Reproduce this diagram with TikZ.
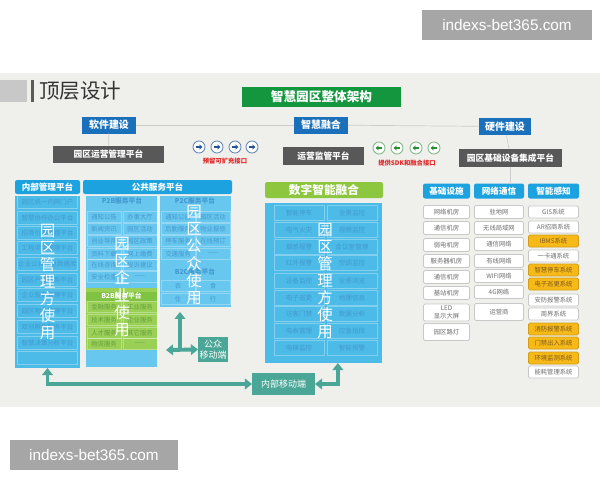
\documentclass[tikz,border=0pt]{standalone}
\usepackage{fontspec}
\setmainfont{Noto Sans CJK SC}
\newfontfamily\wmfont{Liberation Sans}
\usetikzlibrary{positioning,arrows.meta}

\definecolor{slidebg}{RGB}{239,239,236}
\definecolor{wmgray}{RGB}{166,166,166}
\definecolor{titlegray}{RGB}{200,200,200}
\definecolor{bargray}{RGB}{90,90,90}
\definecolor{titletext}{RGB}{51,51,51}
\definecolor{archgreen}{RGB}{20,150,62}
\definecolor{topblue}{RGB}{26,112,186}
\definecolor{platgray}{RGB}{88,88,88}
\definecolor{faintline}{RGB}{205,205,205}
\definecolor{headcyan}{RGB}{28,162,222}
\definecolor{bodycyan}{RGB}{76,187,232}
\definecolor{panelcyan}{RGB}{104,199,238}
\definecolor{rowtext}{RGB}{68,152,207}
\definecolor{b2bgreen}{RGB}{154,208,86}
\definecolor{b2bhead}{RGB}{128,195,66}
\definecolor{greentext}{RGB}{100,158,62}
\definecolor{digigreen}{RGB}{141,198,63}
\definecolor{mobteal}{RGB}{74,166,150}
\definecolor{cellline}{RGB}{200,200,200}
\definecolor{celltext}{RGB}{110,110,110}
\definecolor{cellyellow}{RGB}{246,185,24}
\definecolor{hottext}{RGB}{125,90,30}
\definecolor{notered}{RGB}{222,40,40}
\definecolor{circblue}{RGB}{34,84,150}
\definecolor{circgreen}{RGB}{40,140,50}

\begin{document}
\begin{tikzpicture}[x=0.025cm,y=-0.025cm,
    sz/.style 2 args={minimum width=#1*0.025cm,minimum height=#2*0.025cm,inner sep=0pt,outer sep=0pt},
    wm/.style={fill=wmgray,text=white,font=\wmfont\fontsize{10.9}{12}\selectfont},
    top box/.style={fill=topblue,text=white,font=\fontsize{7.1}{8}\selectfont\bfseries},
    plat box/.style={fill=platgray,text=white,font=\fontsize{6.2}{7}\selectfont\bfseries},
    faint/.style={draw=faintline,line width=0.5pt},
    blue circ/.style={circle,sz={12}{12},fill=white,draw=circblue!70,line width=0.6pt},
    green circ/.style={circle,sz={12}{12},fill=white,draw=circgreen!60,line width=0.6pt},
    circ arrow/.style={line width=1.1pt,-{Stealth[length=2.2pt,width=3.6pt]}},
    note/.style={text=notered,font=\fontsize{4.5}{5}\selectfont\bfseries},
    head box/.style={fill=headcyan,rounded corners=1.5pt,text=white,font=\fontsize{6.1}{7}\selectfont\bfseries},
    mrow/.style={sz={60}{13},draw=white,draw opacity=0.3,text=rowtext,font=\fontsize{4.6}{5}\selectfont},
    prow/.style={sz={34}{11},draw=white,draw opacity=0.3,text=rowtext,font=\fontsize{4.5}{5}\selectfont},
    b2b row/.style={prow,text=greentext},
    drow/.style={sz={50}{15},draw=white,draw opacity=0.3,text=rowtext,font=\fontsize{4.7}{5}\selectfont},
    sub title/.style={text=rowtext,font=\fontsize{4.8}{5}\selectfont\bfseries},
    big text/.style={text=white,align=center,font=\fontsize{11}{12.2}\selectfont},
    mob box/.style={fill=mobteal,text=white,align=center,font=\fontsize{6.4}{8}\selectfont},
    tarrow/.style={draw=mobteal,line width=2.8pt},
    cell/.style={fill=white,draw=cellline,line width=0.5pt,rounded corners=1pt,text=celltext,align=center,font=\fontsize{4.5}{5.2}\selectfont},
    hot cell/.style={cell,fill=cellyellow,draw=cellyellow!85!black,text=hottext}
  ]
  \useasboundingbox (0,0) rectangle (600,480);
  \fill[white] (0,0) rectangle (600,480);
  \fill[slidebg] (0,73) rectangle (600,407);

  % watermarks
  \node[wm,sz={170}{30}] (wma) at (507,25) {indexs-bet365.com};
  \node[wm,sz={168}{30}] (wmb) at (94,455) {indexs-bet365.com};

  % title
  \node[sz={27}{22},fill=titlegray] (tg) at (13.5,91) {};
  \node[sz={3}{22},fill=bargray] (tb) at (32.5,91) {};
  \node[anchor=west,inner sep=0pt,text=titletext,font=\fontsize{14.6}{16}\selectfont] (title) at (39,91) {顶层设计};

  \node[sz={159}{20},fill=archgreen,text=white,font=\fontsize{9}{10}\selectfont\bfseries] (arch) at (321.5,97) {智慧园区整体架构};

  % top row
  \node[top box,sz={54}{17}] (sw) at (109,125) {软件建设};
  \node[top box,sz={54}{17}] (fz) at (321,125) {智慧融合};
  \node[top box,sz={52}{17}] (hw) at (505,126.5) {硬件建设};

  \node[plat box,sz={111}{17}] (opm) at (108.5,154.5) {园区运营管理平台};
  \node[plat box,sz={81}{18}] (spv) at (323.5,156) {运营监管平台};
  \node[plat box,sz={103}{18}] (ins) at (510.5,158) {园区基础设备集成平台};

  \path[faint]
      (sw) edge (fz)
      (fz) edge (hw)
      (sw) edge (opm)
      (hw) edge (ins);

  % interface arrows
  \node[blue circ] (ba) at (199,147) {};
  \node[blue circ] (bb) at (217,147) {};
  \node[blue circ] (bc) at (235,147) {};
  \node[blue circ] (bd) at (252,147) {};
  \draw[circ arrow,circblue] ([xshift=-2.4pt]ba.center) -- ([xshift=2.4pt]ba.center);
  \draw[circ arrow,circblue] ([xshift=-2.4pt]bb.center) -- ([xshift=2.4pt]bb.center);
  \draw[circ arrow,circblue] ([xshift=-2.4pt]bc.center) -- ([xshift=2.4pt]bc.center);
  \draw[circ arrow,circblue] ([xshift=-2.4pt]bd.center) -- ([xshift=2.4pt]bd.center);
  \node[note] (rsv) at (225,161) {预留可扩充接口};

  \node[green circ] (ga) at (379,148) {};
  \node[green circ] (gb) at (397,148) {};
  \node[green circ] (gc) at (416,148) {};
  \node[green circ] (gd) at (434,148) {};
  \draw[circ arrow,circgreen] ([xshift=2.4pt]ga.center) -- ([xshift=-2.4pt]ga.center);
  \draw[circ arrow,circgreen] ([xshift=2.4pt]gb.center) -- ([xshift=-2.4pt]gb.center);
  \draw[circ arrow,circgreen] ([xshift=2.4pt]gc.center) -- ([xshift=-2.4pt]gc.center);
  \draw[circ arrow,circgreen] ([xshift=2.4pt]gd.center) -- ([xshift=-2.4pt]gd.center);
  \node[note] (sdk) at (407,163) {提供SDK和融合接口};

  % internal management platform
  \node[head box,sz={65}{14}] (mh) at (47.5,187) {内部管理平台};
  \node[sz={65}{172},fill=bodycyan] (mb) at (47.5,282) {};
  \node[mrow] (m1) at (47.5,202) {园区统一内网门户};
  \node[mrow] (m2) at (47.5,218) {智慧协作办公平台};
  \node[mrow] (m3) at (47.5,233) {招商引资管理平台};
  \node[mrow] (m4) at (47.5,248) {工程项目管理平台};
  \node[mrow] (m5) at (47.5,264) {企业公共信息数据库};
  \node[mrow] (m6) at (47.5,280) {园区产业服务平台};
  \node[mrow] (m7) at (47.5,295) {企业服务管理平台};
  \node[mrow] (m8) at (47.5,311) {园区物业管理平台};
  \node[mrow] (m9) at (47.5,327) {双创孵化服务平台};
  \node[mrow] (m10) at (47.5,343) {智慧决策分析平台};
  \node[mrow] (m11) at (47.5,358) {};
  \node[big text] (mtxt) at (47.5,282) {园\\区\\管\\理\\方\\使\\用};

  % public service platform
  \node[head box,sz={149}{14}] (ph) at (157.5,187) {公共服务平台};
  \node[sz={71}{171},fill=panelcyan] (pb) at (121.5,281.5) {};
  \node[sz={71}{111},fill=panelcyan] (pc) at (195.5,251.5) {};

  \node[sub title] (pbt) at (122,201) {P2B服务平台};
  \node[prow] (pb1) at (104,217) {通知公告};
  \node[prow] (pb2) at (140,217) {办事大厅};
  \node[prow] (pb3) at (104,229) {新闻资讯};
  \node[prow] (pb4) at (140,229) {园区活动};
  \node[prow] (pb5) at (104,241) {创业导师};
  \node[prow] (pb6) at (140,241) {园区政策};
  \node[prow] (pb7) at (104,254) {资料下载};
  \node[prow] (pb8) at (140,254) {网上缴费};
  \node[prow] (pb9) at (104,265) {在线咨询};
  \node[prow] (pb10) at (140,265) {投诉建议};
  \node[prow] (pb11) at (104,277) {安全检查};
  \node[prow] (pb12) at (140,277) {——};

  \node[sz={71}{62},fill=b2bgreen] (bb2) at (121.5,319) {};
  \node[sz={71}{9},fill=b2bhead,text=white,font=\fontsize{4.8}{5}\selectfont\bfseries] (bbt) at (121.5,296) {B2B服务平台};
  \node[b2b row] (bg1) at (104,307) {金融服务};
  \node[b2b row] (bg2) at (140,307) {工业服务};
  \node[b2b row] (bg3) at (104,320) {技术服务};
  \node[b2b row] (bg4) at (140,320) {企业服务};
  \node[b2b row] (bg5) at (104,333) {人才服务};
  \node[b2b row] (bg6) at (140,333) {其它服务};
  \node[b2b row] (bg7) at (104,344) {物流服务};
  \node[b2b row] (bg8) at (140,344) {——};

  \node[sub title] (pct) at (195,201) {P2C服务平台};
  \node[prow] (pc1) at (178,217) {通知公告};
  \node[prow] (pc2) at (213,217) {园区活动};
  \node[prow] (pc3) at (178,229) {后勤服务};
  \node[prow] (pc4) at (213,229) {物业报修};
  \node[prow] (pc5) at (178,241) {停车服务};
  \node[prow] (pc6) at (213,241) {在线预订};
  \node[prow] (pc7) at (178,254) {交通服务};
  \node[prow] (pc8) at (213,254) {——};
  \node[sub title] (bct) at (195,272) {B2C服务平台};
  \node[prow] (bc1) at (178,286) {衣};
  \node[prow] (bc2) at (213,286) {食};
  \node[prow] (bc3) at (178,299) {住};
  \node[prow] (bc4) at (213,299) {行};

  \node[big text] (etxt) at (122,287) {园\\区\\企\\业\\使\\用};
  \node[big text] (gtxt) at (194,255) {园\\区\\公\\众\\使\\用};

  % public mobile end
  \node[mob box,sz={30}{25}] (pm) at (213,349.5) {公众\\移动端};
  \coordinate (hub) at (180,350);
  \coordinate (hubl) at (166,350);
  \draw[tarrow,{Triangle[length=5pt,width=7.5pt]}-{Triangle[length=5pt,width=7.5pt]}] (hubl) -- (pm.west);
  \draw[tarrow,-{Triangle[length=5pt,width=7.5pt]},shorten >=3.5pt] (hub) -- (hub |- pc.south);

  % digital fusion
  \node[sz={118}{16},fill=digigreen,rounded corners=1.5pt,text=white,font=\fontsize{8.3}{9}\selectfont\bfseries] (dh) at (324,190) {数字智能融合};
  \node[sz={117}{160},fill=bodycyan] (db) at (323.5,283) {};
  \node[drow] (d1) at (299,213) {智能停车};
  \node[drow] (d2) at (352,213) {全景监控};
  \node[drow] (d3) at (299,230) {电气火灾};
  \node[drow] (d4) at (352,230) {视频监控};
  \node[drow] (d5) at (299,247) {烟感报警};
  \node[drow] (d6) at (352,247) {会议室管理};
  \node[drow] (d7) at (299,263) {红外报警};
  \node[drow] (d8) at (352,263) {空调监控};
  \node[drow] (d9) at (299,281) {设备监控};
  \node[drow] (d10) at (352,281) {全景浏览};
  \node[drow] (d11) at (299,298) {电子巡更};
  \node[drow] (d12) at (352,298) {地理信息};
  \node[drow] (d13) at (299,314) {访客门禁};
  \node[drow] (d14) at (352,314) {数据分析};
  \node[drow] (d15) at (299,331) {电表管理};
  \node[drow] (d16) at (352,331) {应急指挥};
  \node[drow] (d17) at (299,348) {电梯监控};
  \node[drow] (d18) at (352,348) {智能预警};
  \node[big text] (dtxt) at (325,281) {园\\区\\管\\理\\方\\使\\用};

  % internal mobile end
  \node[mob box,sz={63}{22}] (im) at (283.5,384) {内部移动端};
  \draw[tarrow,{Triangle[length=5pt,width=7.5pt]}-{Triangle[length=5pt,width=7.5pt]}] (im.west) -| (mb.south);
  \draw[tarrow,{Triangle[length=5pt,width=7.5pt]}-{Triangle[length=5pt,width=7.5pt]}] (im.east) -| ([xshift=0.36cm]db.south);

  % hardware columns
  \node[head box,sz={47}{15}] (ha) at (446.5,191) {基础设施};
  \node[head box,sz={50}{15}] (hb) at (499,191) {网络通信};
  \node[head box,sz={51}{15}] (hc) at (553.5,191) {智能感知};
  \draw[faint] (ins.south) -- (ins.south |- hb.north);

  \node[cell,sz={46}{13}] (a1) at (446.5,212) {网络机房};
  \node[cell,sz={46}{13}] (a2) at (446.5,228) {通信机房};
  \node[cell,sz={46}{13}] (a3) at (446.5,245) {弱电机房};
  \node[cell,sz={46}{13}] (a4) at (446.5,261) {服务器机房};
  \node[cell,sz={46}{13}] (a5) at (446.5,277) {通信机房};
  \node[cell,sz={46}{13}] (a6) at (446.5,293) {基站机房};
  \node[cell,sz={46}{17}] (a7) at (446.5,312.5) {LED\\显示大屏};
  \node[cell,sz={46}{17}] (a8) at (446.5,332) {园区路灯};

  \node[cell,sz={49}{13}] (n1) at (499,212) {驻地网};
  \node[cell,sz={49}{13}] (n2) at (499,228) {无线局域网};
  \node[cell,sz={49}{13}] (n3) at (499,244) {通信网络};
  \node[cell,sz={49}{13}] (n4) at (499,261) {有线网络};
  \node[cell,sz={49}{13}] (n5) at (499,276) {WIFI网络};
  \node[cell,sz={49}{13}] (n6) at (499,292) {4G网络};
  \node[cell,sz={49}{17}] (n7) at (499,312) {运营商};

  \node[cell,sz={50}{12}] (s1) at (553.5,212) {GIS系统};
  \node[cell,sz={50}{12}] (s2) at (553.5,227) {AR招商系统};
  \node[hot cell,sz={50}{12}] (s3) at (553.5,241) {IBMS系统};
  \node[cell,sz={50}{12}] (s4) at (553.5,256) {一卡通系统};
  \node[hot cell,sz={50}{12}] (s5) at (553.5,270) {智慧停车系统};
  \node[hot cell,sz={50}{12}] (s6) at (553.5,284) {电子巡更系统};
  \node[cell,sz={50}{12}] (s7) at (553.5,300) {安防报警系统};
  \node[cell,sz={50}{12}] (s8) at (553.5,314) {周界系统};
  \node[hot cell,sz={50}{12}] (s9) at (553.5,329) {消防报警系统};
  \node[hot cell,sz={50}{12}] (s10) at (553.5,343) {门禁出入系统};
  \node[hot cell,sz={50}{12}] (s11) at (553.5,358) {环境监测系统};
  \node[cell,sz={50}{12}] (s12) at (553.5,372) {能耗管理系统};
\end{tikzpicture}
\end{document}
